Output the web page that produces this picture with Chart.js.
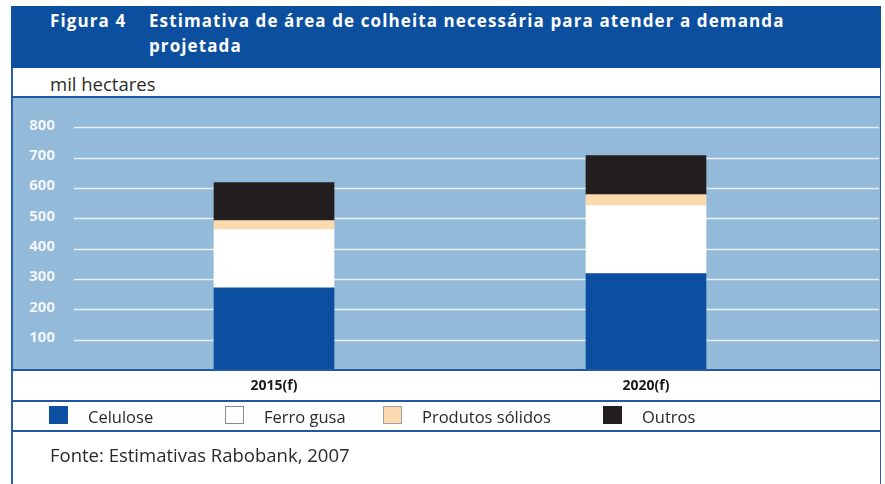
<!DOCTYPE html>
<html>
<head>
<meta charset="utf-8">
<script src="https://cdn.jsdelivr.net/npm/chart.js@4.4.1/dist/chart.umd.min.js"></script>
<style>
  html, body { margin: 0; padding: 0; background: #fff; }
  #wrap { position: relative; width: 885px; height: 484px; overflow: hidden; font-family: "Open Sans", sans-serif; }
  #chart { position: absolute; left: 0; top: 0; }
  .abs { position: absolute; white-space: nowrap; }
  .banner { left: 11px; top: 6px; width: 870px; height: 62px; background: #0d4f9f; }
  .title { color: #fff; font-weight: 700; font-size: 17px; letter-spacing: 1.1px; line-height: 25px; }
  .vline { width: 1.5px; background: #2c60a8; top: 68px; height: 416px; }
  .hline { left: 11px; width: 870px; background: #1f58a4; }
  .txt { color: #2a2a2a; font-size: 18.5px; }
  .lg-box { width: 19px; height: 18px; top: 406px; box-sizing: border-box; }
  .lg-txt { top: 406px; font-size: 16.5px; color: #2a2a2a; line-height: 22px; }
</style>
</head>
<body>
<div id="wrap">
  <div class="abs banner"></div>
  <div class="abs title" style="left:50px;top:8px;">Figura 4</div>
  <div class="abs title" style="left:149px;top:8px;">Estimativa de área de colheita necessária para atender a demanda<br>projetada</div>
  <div class="abs txt" style="left:50px;top:71px;">mil hectares</div>
  <canvas id="chart" width="885" height="484"></canvas>
  <div class="abs vline" style="left:11px;"></div>
  <div class="abs vline" style="left:879.5px;"></div>
  <div class="abs hline" style="top:96px;height:2px;"></div>
  <div class="abs hline" style="top:369px;height:2px;"></div>
  <div class="abs hline" style="top:400px;height:1.5px;"></div>
  <div class="abs hline" style="top:430px;height:1.5px;"></div>
  <div id="legend"></div>
  <div class="abs txt" style="left:50px;top:442px;">Fonte: Estimativas Rabobank, 2007</div>
</div>
<script>
const categories = ['2015(f)', '2020(f)'];
const celulose = [271, 318];
const ferroGusa = [192, 224];
const produtosSolidos = [30, 36];
const outros = [125, 129];
const yTicks = [100, 200, 300, 400, 500, 600, 700, 800];

const seriesNames = ['Celulose', 'Ferro gusa', 'Produtos sólidos', 'Outros'];
const seriesColors = ['#0c4fa0', '#ffffff', '#fdd9b0', '#231f20'];
const legendBorders = ['#0c4fa0', '#8a8a8a', '#a0a0a0', '#231f20'];
const legendLeft = [49, 225, 383, 603];

// light blue panel and white grid lines across the whole panel width
const panelPlugin = {
  id: 'panel',
  beforeDraw(chart) {
    const { ctx, chartArea, scales } = chart;
    ctx.save();
    ctx.fillStyle = '#93bad9';
    ctx.fillRect(12, chartArea.top, 868, chartArea.bottom - chartArea.top);
    ctx.strokeStyle = '#e6eef6';
    ctx.lineWidth = 1.5;
    yTicks.forEach(v => {
      const y = Math.round(scales.y.getPixelForValue(v)) + 0.5;
      ctx.beginPath();
      ctx.moveTo(74, y);
      ctx.lineTo(879, y);
      ctx.stroke();
    });
    ctx.restore();
  }
};

const values = [celulose, ferroGusa, produtosSolidos, outros];

new Chart(document.getElementById('chart'), {
  type: 'bar',
  data: {
    labels: categories,
    datasets: seriesNames.map((name, i) => ({
      label: name,
      data: values[i],
      backgroundColor: seriesColors[i],
      borderWidth: 0,
      barThickness: 120
    }))
  },
  options: {
    responsive: false,
    animation: false,
    devicePixelRatio: 1,
    layout: { padding: { top: 97, right: 53, bottom: 84, left: 0 } },
    plugins: { legend: { display: false }, tooltip: { enabled: false } },
    scales: {
      x: {
        stacked: true,
        grid: { display: false, drawTicks: false },
        border: { display: false },
        ticks: {
          color: '#1a1a1a',
          font: { family: 'Open Sans', weight: 'bold', size: 14 },
          padding: 8
        },
        afterFit: s => { s.height = 30; }
      },
      y: {
        stacked: true,
        min: 0,
        max: 900,
        grid: { display: false, drawTicks: false },
        border: { display: false },
        afterFit: s => { s.width = 88; },
        afterBuildTicks: s => { s.ticks = yTicks.map(v => ({ value: v })); },
        ticks: {
          color: '#f3f7fb',
          font: { family: 'Open Sans', weight: 'bold', size: 15 },
          padding: 33,
          labelOffset: -2
        }
      }
    }
  },
  plugins: [panelPlugin]
});

// legend row
const legend = document.getElementById('legend');
seriesNames.forEach((name, i) => {
  const box = document.createElement('div');
  box.className = 'abs lg-box';
  box.style.left = legendLeft[i] + 'px';
  box.style.background = seriesColors[i];
  box.style.border = '1px solid ' + legendBorders[i];
  legend.appendChild(box);
  const t = document.createElement('div');
  t.className = 'abs lg-txt';
  t.style.left = (legendLeft[i] + 39) + 'px';
  t.textContent = name;
  legend.appendChild(t);
});
</script>
</body>
</html>
